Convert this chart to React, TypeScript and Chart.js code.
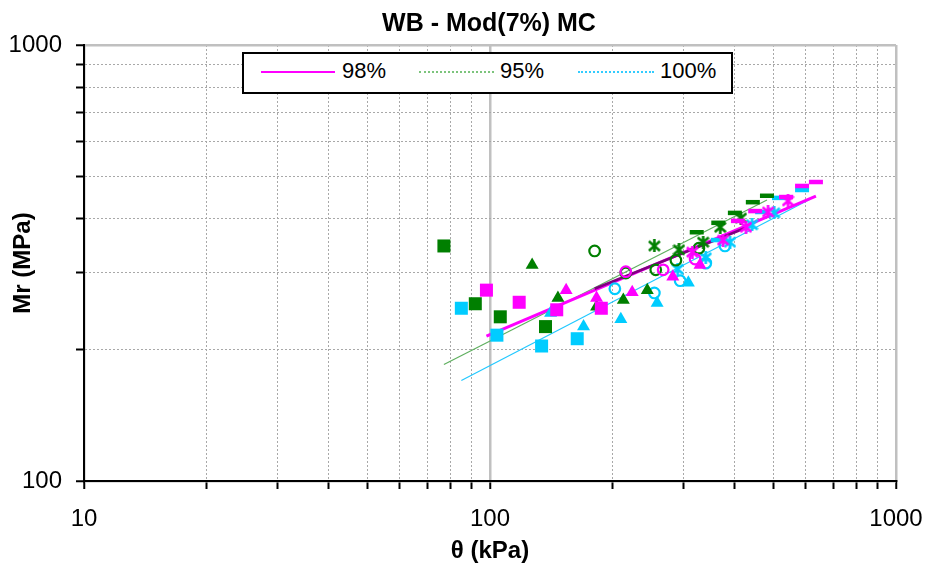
import React, { useEffect, useRef } from 'react';
import { Chart, registerables } from 'chart.js';

Chart.register(...registerables);

type Pt = [number, number];

const FONT = '"Liberation Sans", Arial, Helvetica, sans-serif';

const chartTitle = 'WB - Mod(7%) MC';
const xAxisTitle = 'θ (kPa)';
const yAxisTitle = 'Mr (MPa)';
const legendLabels = ['98%', '95%', '100%'];
const xTickLabels = [10, 100, 1000];
const yTickLabels = [100, 1000];

// 98% (magenta)
const sq98: Pt[] = [[98, 274], [118, 257], [146, 247], [188, 249]];
const tri98: Pt[] = [[154, 274], [183, 263], [224, 271], [282, 294], [329, 313]];
const cir98: Pt[] = [[216, 302], [267, 305], [320, 323]];
const ast98: Pt[] = [[315, 335], [375, 357], [427, 382], [484, 414], [542, 439]];
const dash98: Pt[] = [[408, 395], [450, 416], [536, 448], [587, 475], [635, 485]];
const fit98: Pt[] = [[98, 215], [635, 450]];

// 95% (green)
const sq95: Pt[] = [[77, 346], [92, 255], [106, 238], [137, 226]];
const tri95: Pt[] = [[127, 313], [147, 263], [183, 251], [213, 260], [244, 274]];
const cir95: Pt[] = [[181, 337], [216, 300], [256, 305], [287, 321], [327, 342]];
const ast95: Pt[] = [[254, 346], [292, 339], [335, 353], [369, 382], [415, 401]];
const dash95: Pt[] = [[323, 372], [365, 391], [401, 412], [444, 436], [481, 451]];
const fit95: Pt[] = [[77, 185], [481, 441]];

// 100% (cyan)
const sq100: Pt[] = [[85, 249], [104, 216], [134, 204], [164, 212]];
const tri100: Pt[] = [[141, 243], [170, 226], [210, 235], [258, 256], [308, 285]];
const cir100: Pt[] = [[203, 276], [254, 270], [294, 288], [340, 316], [379, 346]];
const ast100: Pt[] = [[290, 306], [340, 325], [390, 353], [442, 387], [501, 412]];
const dash100: Pt[] = [[364, 357], [468, 414], [515, 446], [587, 465]];
const fit100: Pt[] = [[85, 170], [614, 443]];

// overall fit (dark purple)
const fitAll: Pt[] = [[181, 276], [430, 382]];

const MAGENTA = '#FF00FF';
const GREEN = '#007F00';
const CYAN = '#00CCFF';

const toXY = (arr: Pt[]) => arr.map(([x, y]) => ({ x, y }));

function makeAsterisk(color: string): HTMLCanvasElement {
  const c = document.createElement('canvas');
  c.width = 13;
  c.height = 13;
  const g = c.getContext('2d')!;
  g.strokeStyle = color;
  g.lineWidth = 2.6;
  g.beginPath();
  g.moveTo(6.5, 0);
  g.lineTo(6.5, 13);
  g.moveTo(1, 1.8);
  g.lineTo(12, 11.2);
  g.moveTo(12, 1.8);
  g.lineTo(1, 11.2);
  g.stroke();
  return c;
}

function groupSets(color: string, sq: Pt[], tri: Pt[], cir: Pt[], ast: Pt[], dash: Pt[]) {
  return [
    { data: toXY(sq), pointStyle: 'rect', pointRadius: 9.2, backgroundColor: color, borderColor: color, borderWidth: 0 },
    { data: toXY(tri), pointStyle: 'triangle', pointRadius: 7.5, backgroundColor: color, borderColor: color, borderWidth: 0 },
    { data: toXY(cir), pointStyle: 'circle', pointRadius: 5.3, backgroundColor: 'rgba(0,0,0,0)', borderColor: color, borderWidth: 2.2 },
    { data: toXY(ast), pointStyle: makeAsterisk(color), pointRadius: 6.5, backgroundColor: color, borderColor: color },
    { data: toXY(dash), pointStyle: 'line', pointRadius: 7, backgroundColor: color, borderColor: color, borderWidth: 4.5 },
  ];
}

function fitSet(pts: Pt[], color: string, width: number) {
  return {
    data: toXY(pts),
    showLine: true,
    pointRadius: 0,
    borderColor: color,
    backgroundColor: color,
    borderWidth: width,
  };
}

function logTicks(min: number, max: number) {
  const t: { value: number }[] = [];
  for (let d = min; d < max; d *= 10) {
    for (let k = 1; k < 10; k++) t.push({ value: d * k });
  }
  t.push({ value: max });
  return t;
}

const isMajor = (v: number | undefined) => v === 10 || v === 100 || v === 1000;

function gridOpts() {
  return {
    color: (ctx: any) => (ctx.tick && isMajor(ctx.tick.value) ? '#c0c0c0' : '#a8a8a8'),
    lineWidth: (ctx: any) => (ctx.tick && isMajor(ctx.tick.value) ? 2.5 : 1),
    tickColor: '#000',
    tickWidth: 2,
    tickLength: 8,
    drawTicks: true,
  };
}

function borderOpts() {
  return {
    color: '#000',
    width: 2,
    dash: (ctx: any) => (ctx.tick && !isMajor(ctx.tick.value) ? [2, 2] : []),
  };
}

export default function App() {
  const ref = useRef<HTMLCanvasElement | null>(null);

  useEffect(() => {
    if (!ref.current) return;
    const datasets: any[] = [
      ...groupSets(MAGENTA, sq98, tri98, cir98, ast98, dash98),
      ...groupSets(GREEN, sq95, tri95, cir95, ast95, dash95),
      ...groupSets(CYAN, sq100, tri100, cir100, ast100, dash100),
      fitSet(fitAll, '#800080', 2.5),
      fitSet(fit98, MAGENTA, 3),
      fitSet(fit95, '#5FAF5F', 1.2),
      fitSet(fit100, '#22C8FF', 1.2),
    ];
    const chart = new Chart(ref.current, {
      type: 'scatter',
      data: { datasets },
      options: {
        animation: false,
        responsive: false,
        devicePixelRatio: 1,
        events: [],
        layout: { padding: { top: 45, right: 29, left: 0, bottom: 0 } },
        plugins: {
          legend: { display: false },
          title: { display: false },
          tooltip: { enabled: false },
        },
        scales: {
          x: {
            type: 'logarithmic',
            position: 'bottom',
            min: 10,
            max: 1000,
            afterBuildTicks: (scale: any) => {
              scale.ticks = logTicks(10, 1000);
            },
            afterFit: (scale: any) => {
              scale.height = 83;
              scale.paddingLeft = 0;
              scale.paddingRight = 0;
            },
            ticks: {
              autoSkip: false,
              maxRotation: 0,
              minRotation: 0,
              padding: 16,
              color: '#000',
              font: { family: FONT, size: 24 },
              callback: (v: any) => (xTickLabels.includes(Number(v)) ? String(v) : ''),
            },
            grid: gridOpts(),
            border: borderOpts(),
            title: {
              display: true,
              text: xAxisTitle,
              color: '#000',
              font: { family: FONT, size: 24, weight: 'bold', lineHeight: 1 },
              padding: { top: 0, bottom: 1 },
            },
          },
          y: {
            type: 'logarithmic',
            position: 'left',
            min: 100,
            max: 1000,
            afterBuildTicks: (scale: any) => {
              scale.ticks = logTicks(100, 1000);
            },
            afterFit: (scale: any) => {
              scale.width = 84;
              scale.paddingTop = 0;
              scale.paddingBottom = 0;
            },
            ticks: {
              autoSkip: false,
              padding: 14,
              color: '#000',
              font: { family: FONT, size: 24 },
              callback: (v: any) => (yTickLabels.includes(Number(v)) ? String(v) : ''),
            },
            grid: gridOpts(),
            border: borderOpts(),
            title: {
              display: true,
              text: yAxisTitle,
              color: '#000',
              font: { family: FONT, size: 24, weight: 'bold', lineHeight: 1 },
              padding: { top: 11, bottom: 0 },
            },
          },
        },
      } as any,
    });
    return () => chart.destroy();
  }, []);

  const legendItems = [
    { label: legendLabels[0], color: MAGENTA, lineLeft: 261, lineWidth: 74, thick: 2, style: 'solid', textLeft: 342 },
    { label: legendLabels[1], color: '#7CC47C', lineLeft: 419, lineWidth: 75, thick: 2, style: 'dotted', textLeft: 500 },
    { label: legendLabels[2], color: '#33CCFF', lineLeft: 578, lineWidth: 76, thick: 2, style: 'dotted', textLeft: 660 },
  ];

  return (
    <div
      style={{
        position: 'absolute',
        left: 0,
        top: 0,
        width: 925,
        height: 564,
        background: '#fff',
        fontFamily: FONT,
        overflow: 'hidden',
      }}
    >
      <canvas ref={ref} width={925} height={564} style={{ position: 'absolute', left: 0, top: 0, width: 925, height: 564 }} />
      <div
        style={{
          position: 'absolute',
          left: 289,
          top: 10,
          width: 400,
          textAlign: 'center',
          fontWeight: 'bold',
          fontSize: 25,
          lineHeight: '25px',
          color: '#000',
          whiteSpace: 'nowrap',
        }}
      >
        {chartTitle}
      </div>
      <div
        style={{
          position: 'absolute',
          left: 242,
          top: 52,
          width: 491,
          height: 42,
          boxSizing: 'border-box',
          border: '2px solid #000',
          background: '#fff',
        }}
      />
      {legendItems.map((it) => (
        <React.Fragment key={it.label}>
          <div
            style={{
              position: 'absolute',
              left: it.lineLeft,
              top: 72 - it.thick / 2,
              width: it.lineWidth,
              height: 0,
              borderTop: `${it.thick}px ${it.style} ${it.color}`,
            }}
          />
          <div
            style={{
              position: 'absolute',
              left: it.textLeft,
              top: 60,
              fontSize: 22,
              lineHeight: '22px',
              color: '#000',
              whiteSpace: 'nowrap',
            }}
          >
            {it.label}
          </div>
        </React.Fragment>
      ))}
    </div>
  );
}
